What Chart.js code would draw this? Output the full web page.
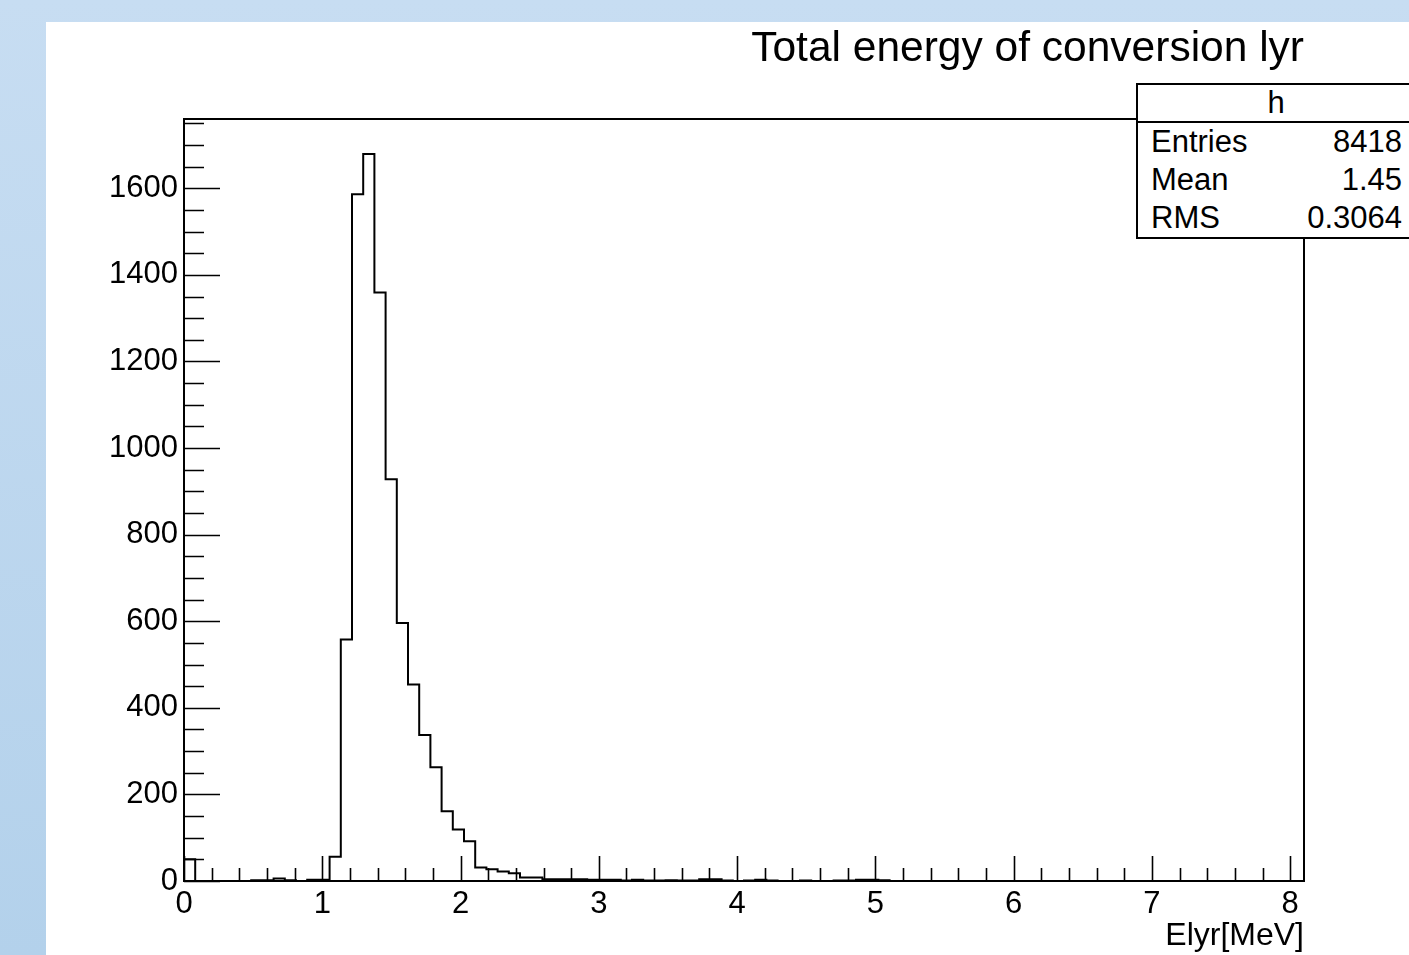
<!DOCTYPE html>
<html>
<head>
<meta charset="utf-8">
<title>Total energy of conversion lyr</title>
<script src="https://cdn.jsdelivr.net/npm/chart.js@4.4.1/dist/chart.umd.min.js"></script>
<style>
    html, body { margin: 0; padding: 0; width: 1409px; height: 955px; overflow: hidden; }
    body {
        position: relative;
        background: linear-gradient(to bottom, #c7ddf2, #b3d1eb);
        font-family: "Liberation Sans", Arial, sans-serif;
    }
    #panel { position: absolute; left: 46px; top: 22px; right: 0; bottom: 0; background: #fff; }
    #chart { position: absolute; left: 0; top: 0; }
    /* ROOT stats box */
    #stats {
        position: absolute; left: 1136px; top: 83px; width: 276px;
        border: 2px solid #000; background: #fff; color: #000; font-size: 31px;
    }
    #stats .hdr { height: 36px; line-height: 36px; text-align: center; border-bottom: 2px solid #000; }
    #stats .row { height: 38px; line-height: 38px; display: flex; justify-content: space-between; padding: 0 12px 0 13px; }
</style>
</head>
<body>
<div id="panel"></div>
<canvas id="chart" width="1409" height="955"></canvas>
<div id="stats"></div>

<script>
// histogram "h" : 100 bins between 0 and 8.1 MeV
const histMin = 0;
const histMax = 8.1;
const binCounts = [
    50, 0, 0, 0, 0, 0, 2, 2, 6, 2,
    0, 3, 3, 56, 558, 1586, 1679, 1359, 928, 596,
    454, 337, 263, 161, 119, 92, 31, 27, 22, 18,
    8, 8, 4, 4, 4, 4, 3, 3, 3, 1,
    3, 1, 1, 2, 1, 1, 4, 4, 1, 0,
    1, 3, 1, 0, 0, 1, 0, 0, 1, 1,
    3, 3, 2, 0, 0, 0, 0, 0, 0, 0,
    0, 0, 0, 0, 0, 0, 0, 0, 0, 0,
    0, 0, 0, 0, 0, 0, 0, 0, 0, 0,
    0, 0, 0, 0, 0, 0, 0, 0, 0, 0
];

const chartTitle = 'Total energy of conversion lyr';
const xAxisTitle = 'Elyr[MeV]';
const xTickValues = [0, 1, 2, 3, 4, 5, 6, 7, 8];
const xTickLabels = ['0', '1', '2', '3', '4', '5', '6', '7', '8'];
const yTickValues = [0, 200, 400, 600, 800, 1000, 1200, 1400, 1600];
const yTickLabels = ['0', '200', '400', '600', '800', '1000', '1200', '1400', '1600'];
const yMax = 1760;

const statsName = 'h';
const statsLabels = ['Entries', 'Mean', 'RMS'];
const statsValues = ['8418', '1.45', '0.3064'];

// minor ticks: 5 divisions per major on x, 4 on y
const xMinorTicks = [];
for (let i = 1; i <= 40; i++) if (i % 5) xMinorTicks.push(i * 0.2);
const yMinorTicks = [];
for (let v = 50; v < yMax; v += 50) if (v % 200) yMinorTicks.push(v);

const FONT = 'Liberation Sans';

// outline points at the low edge of every bin, stepped like a ROOT histogram
const binWidth = (histMax - histMin) / binCounts.length;
const histPoints = binCounts.map((c, i) => ({ x: histMin + i * binWidth, y: c }));
histPoints.push({ x: histMax, y: binCounts[binCounts.length - 1] });

// frame + inward tick marks (ROOT style)
const rootFrame = {
    id: 'rootFrame',
    afterDatasetsDraw(chart) {
        const { ctx, chartArea: a, scales: { x, y } } = chart;
        ctx.save();
        ctx.strokeStyle = '#000';
        ctx.lineWidth = 1.6;
        ctx.beginPath();
        xTickValues.forEach(v => {
            const px = Math.round(x.getPixelForValue(v)) + 0.5;
            ctx.moveTo(px, a.bottom); ctx.lineTo(px, a.bottom - 25);
        });
        xMinorTicks.forEach(v => {
            const px = Math.round(x.getPixelForValue(v)) + 0.5;
            ctx.moveTo(px, a.bottom); ctx.lineTo(px, a.bottom - 13);
        });
        yTickValues.forEach(v => {
            const py = Math.round(y.getPixelForValue(v)) + 0.5;
            ctx.moveTo(a.left, py); ctx.lineTo(a.left + 36, py);
        });
        yMinorTicks.forEach(v => {
            const py = Math.round(y.getPixelForValue(v)) + 0.5;
            ctx.moveTo(a.left, py); ctx.lineTo(a.left + 20, py);
        });
        ctx.stroke();
        ctx.lineWidth = 2;
        ctx.strokeRect(a.left, a.top, a.right - a.left, a.bottom - a.top);
        ctx.restore();
    }
};

new Chart(document.getElementById('chart'), {
    type: 'line',
    data: {
        datasets: [{
            label: statsName,
            data: histPoints,
            stepped: 'before',
            borderColor: '#000',
            borderWidth: 2,
            pointRadius: 0,
            fill: false
        }]
    },
    options: {
        responsive: false,
        animation: false,
        devicePixelRatio: 1,
        layout: { padding: { left: 0, right: 105, top: 0, bottom: 0 } },
        plugins: {
            legend: { display: false },
            tooltip: { enabled: false },
            title: {
                display: true,
                text: chartTitle,
                align: 'end',
                fullSize: false,
                color: '#000',
                font: { family: FONT, size: 42.5, weight: 'normal' },
                padding: { top: 24, bottom: 44 }
            }
        },
        scales: {
            x: {
                type: 'linear',
                min: histMin,
                max: histMax,
                grid: { display: false, drawTicks: false },
                border: { display: false },
                afterBuildTicks: s => { s.ticks = xTickValues.map(v => ({ value: v })); },
                afterFit: s => { s.height = 74; },
                ticks: {
                    padding: 5,
                    maxRotation: 0,
                    color: '#000',
                    font: { family: FONT, size: 31 },
                    callback: v => xTickLabels[xTickValues.indexOf(v)]
                },
                title: {
                    display: true,
                    text: xAxisTitle,
                    align: 'end',
                    color: '#000',
                    font: { family: FONT, size: 32 },
                    padding: { top: 0, bottom: 0 }
                }
            },
            y: {
                min: 0,
                max: yMax,
                grid: { display: false, drawTicks: false },
                border: { display: false },
                afterBuildTicks: s => { s.ticks = yTickValues.map(v => ({ value: v })); },
                afterFit: s => { s.width = 184; },
                ticks: {
                    padding: 6,
                    color: '#000',
                    font: { family: FONT, size: 31 },
                    callback: v => yTickLabels[yTickValues.indexOf(v)]
                }
            }
        }
    },
    plugins: [rootFrame]
});

// stats box
const stats = document.getElementById('stats');
stats.innerHTML = `<div class="hdr">${statsName}</div>` +
    statsLabels.map((l, i) => `<div class="row"><span>${l}</span><span>${statsValues[i]}</span></div>`).join('');
</script>
</body>
</html>
